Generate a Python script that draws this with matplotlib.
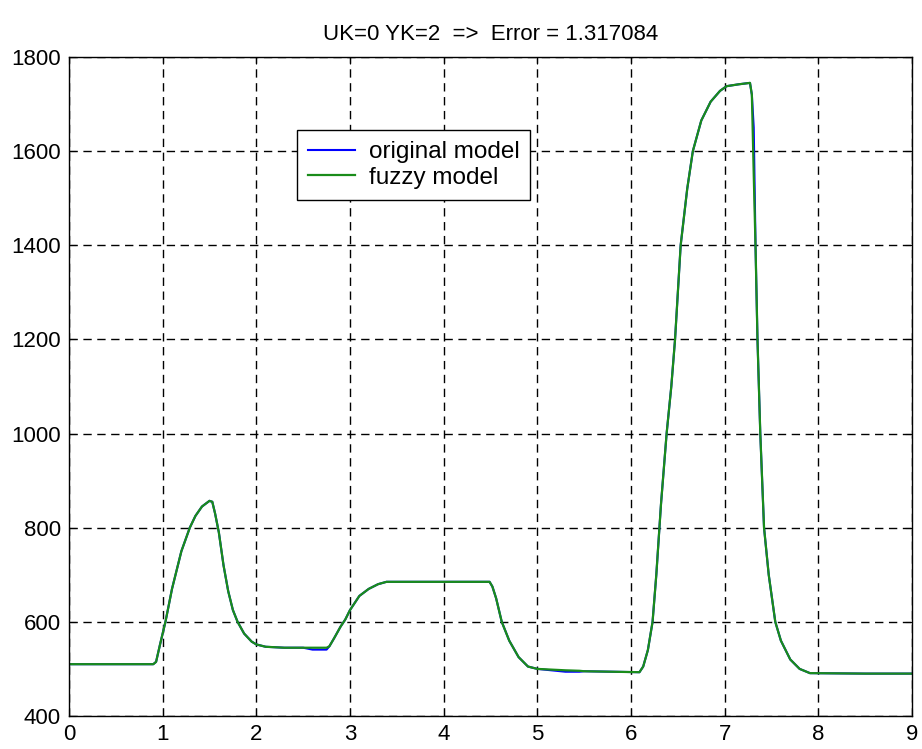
import matplotlib
matplotlib.use("Agg")
import matplotlib.pyplot as plt

plt.rcParams['font.family'] = ['Liberation Sans', 'DejaVu Sans']

title = "UK=0 YK=2  =>  Error = 1.317084"
x_ticks = [0, 1, 2, 3, 4, 5, 6, 7, 8, 9]
y_ticks = [400, 600, 800, 1000, 1200, 1400, 1600, 1800]

t = [0.0, 0.9, 0.93, 0.97, 1.03, 1.1, 1.2, 1.29, 1.35, 1.42, 1.5, 1.53, 1.56, 1.6,
     1.65, 1.7, 1.75, 1.8, 1.87, 1.95, 2.0, 2.1, 2.3, 2.5, 2.6, 2.75, 2.78, 2.83, 2.9,
     2.95, 3.0, 3.1, 3.2, 3.3, 3.39, 4.49, 4.52, 4.56, 4.62, 4.7, 4.8, 4.9, 5.0, 5.3,
     5.45, 5.5, 6.09, 6.13, 6.18, 6.23, 6.27, 6.32, 6.38, 6.43, 6.47, 6.53, 6.6, 6.66,
     6.75, 6.85, 6.95, 7.02, 7.15, 7.27, 7.29, 7.31, 7.33, 7.35, 7.38, 7.42, 7.47, 7.54,
     7.6, 7.7, 7.8, 7.91, 8.5, 9.0]

fuzzy = [510, 510, 515, 550, 600, 670, 750, 800, 825, 845, 857, 855, 830, 790,
         720, 665, 625, 600, 575, 558, 552, 547, 545, 545, 545, 545, 548, 565, 590,
         605, 625, 655, 670, 680, 685, 685, 675, 650, 600, 560, 525, 505, 500, 497,
         496, 495, 493, 505, 540, 600, 700, 850, 1000, 1100, 1200, 1400, 1520, 1600,
         1665, 1705, 1728, 1738, 1742, 1745, 1720, 1550, 1390, 1200, 1000, 800, 700, 600,
         560, 520, 500, 491, 490, 490]

original = [510, 510, 515, 550, 600, 670, 750, 800, 825, 845, 857, 855, 830, 790,
            720, 665, 625, 600, 575, 558, 552, 547, 545, 545, 541, 541, 548, 565, 590,
            605, 625, 655, 670, 680, 685, 685, 675, 650, 600, 560, 525, 505, 500, 494,
            494, 495, 493, 505, 540, 600, 700, 850, 1000, 1100, 1200, 1400, 1520, 1600,
            1665, 1705, 1728, 1738, 1742, 1745, 1720, 1650, 1390, 1200, 1000, 800, 700, 600,
            560, 520, 500, 491, 490, 490]

fig = plt.figure(figsize=(9.22, 7.49), dpi=100)
ax = fig.add_axes([0.0748, 0.0441, 0.9144, 0.8798])

ax.plot(t, original, color=(0, 0, 1), lw=1.5, label="original model")
ax.plot(t, fuzzy, color=(0.1, 0.55, 0.1), lw=1.6, label="fuzzy model")

ax.set_xlim(0, 9)
ax.set_ylim(400, 1800)
ax.set_xticks(x_ticks)
ax.set_yticks(y_ticks)
ax.tick_params(direction='in', top=True, right=True, labelsize=16, length=5, pad=6)
ax.grid(True, color='black', linestyle=(0, (6, 4)), linewidth=1)
for s in ax.spines.values():
    s.set_linewidth(1)
ax.set_title(title, fontsize=16, pad=12)

leg = ax.legend(loc='upper left', bbox_to_anchor=(0.2705, 0.889), fontsize=17.5,
                fancybox=False, edgecolor='black', framealpha=1, handlelength=1.95,
                handletextpad=0.55, borderpad=0.45, labelspacing=0.15,
                borderaxespad=0)
leg.get_frame().set_linewidth(1)

fig.savefig("out.png", dpi=100)
